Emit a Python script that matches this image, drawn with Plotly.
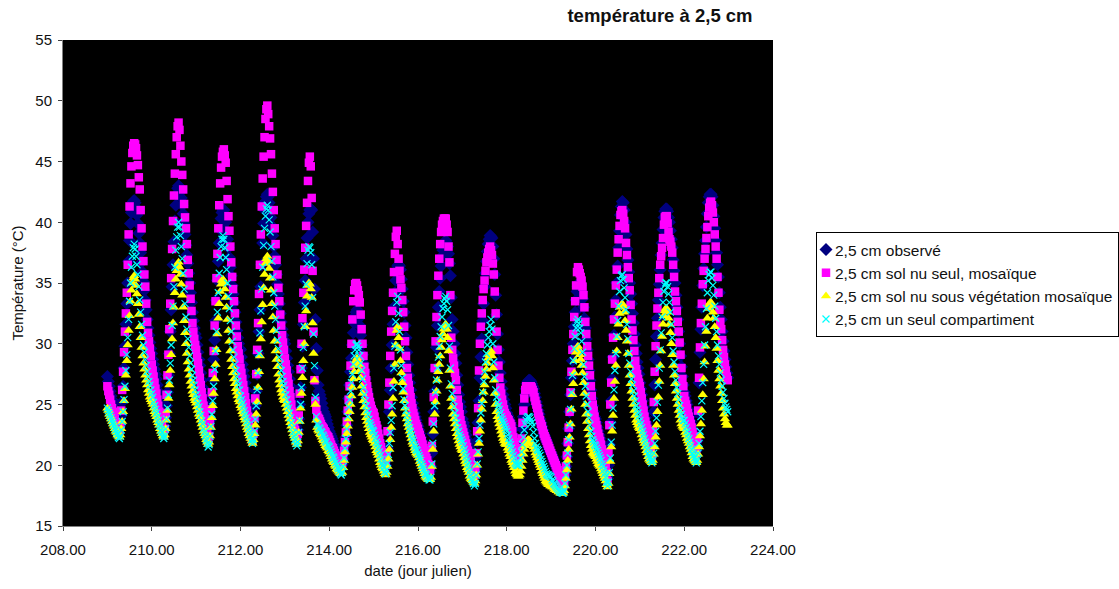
import plotly.graph_objects as go

days = [209, 210, 211, 212, 213, 214, 215, 216, 217, 218, 219, 220, 221, 222]
readings_per_day = 48

observed = [
 [27.3,26.9,26.5,26.1,25.7,25.4,25.0,24.7,24.3,24.0,23.8,23.6,23.4,23.2,23.4,24.1,25.2,26.5,28.0,29.8,31.6,33.3,35.0,36.8,38.5,39.9,40.8,41.4,41.7,41.8,41.6,41.2,40.6,39.9,39.1,38.3,37.5,36.7,35.9,35.1,34.4,33.6,32.8,32.0,31.3,30.7,30.1,29.6],
 [29.2,28.7,28.3,27.9,27.5,27.1,26.6,26.1,25.6,25.1,24.7,24.2,23.6,23.0,23.2,23.9,24.9,26.0,27.4,29.2,31.0,32.8,34.7,36.5,38.4,40.1,41.4,42.3,42.8,43.0,42.9,42.5,42.0,41.4,40.7,39.9,39.0,38.1,37.3,36.6,35.8,35.0,34.2,33.4,32.6,31.9,31.3,30.8],
 [30.5,29.9,29.3,28.7,28.2,27.6,27.0,26.4,25.8,25.2,24.7,24.2,23.5,22.8,23.0,23.7,24.7,25.8,27.1,28.7,30.3,31.9,33.6,35.2,36.8,38.3,39.4,40.3,40.8,41.0,41.0,40.6,40.0,39.3,38.6,37.9,37.1,36.3,35.6,34.8,34.1,33.4,32.6,31.8,31.1,30.5,30.0,29.6],
 [29.5,28.9,28.3,27.8,27.3,26.8,26.2,25.6,25.1,24.6,24.1,23.7,23.2,22.6,23.0,23.8,24.9,26.1,27.5,29.2,31.0,32.8,34.7,36.5,38.3,39.9,41.0,41.7,42.1,42.3,42.1,41.6,41.0,40.4,39.7,38.9,38.0,37.2,36.5,35.7,34.9,34.1,33.3,32.5,31.8,31.2,30.7,30.3],
 [30.0,29.4,28.8,28.2,27.7,27.1,26.5,25.9,25.3,24.8,24.3,23.8,23.2,22.6,22.9,23.8,25.0,26.4,28.0,29.8,31.6,33.4,35.2,37.0,38.7,40.0,40.7,41.0,41.1,41.0,39.2,37.0,34.5,32.0,29.6,27.8,26.6,26.1,25.8,25.5,25.1,24.7,24.4,24.2,24.0,23.7,23.4,23.1],
 [22.8,22.6,22.4,22.2,22.0,21.7,21.4,21.2,20.9,20.7,20.5,20.3,20.1,20.0,20.1,20.5,21.0,21.6,22.3,23.3,24.4,25.5,26.6,27.7,28.8,29.9,30.9,31.7,32.3,32.6,32.8,32.5,32.1,31.5,30.7,29.9,29.1,28.4,27.7,27.1,26.5,26.0,25.5,25.0,24.6,24.3,24.1,23.9],
 [23.8,23.5,23.2,22.9,22.6,22.3,22.0,21.7,21.4,21.1,20.8,20.6,20.3,20.0,20.4,21.4,22.8,24.4,26.2,28.0,29.9,31.6,33.0,34.2,35.2,36.0,36.4,36.5,36.4,36.1,35.3,34.5,33.5,32.6,31.5,30.5,29.3,28.3,27.4,26.8,26.2,25.6,25.1,24.7,24.3,24.0,23.7,23.4],
 [23.2,22.9,22.6,22.3,22.0,21.7,21.4,21.1,20.8,20.5,20.2,20.0,19.8,19.5,19.9,21.0,22.6,24.4,26.1,27.9,29.7,31.5,33.0,34.3,35.4,36.4,37.2,37.7,38.0,38.3,38.5,38.3,38.0,37.4,36.6,35.6,33.8,32.0,31.0,30.0,29.2,28.4,27.4,26.6,25.8,25.2,24.8,24.4],
 [23.8,23.5,23.2,22.8,22.5,22.1,21.8,21.5,21.1,20.8,20.4,20.1,19.8,19.4,19.7,20.7,22.0,23.5,25.3,27.2,28.9,30.4,31.9,33.3,34.7,35.8,36.8,37.6,38.2,38.6,38.9,38.8,38.7,38.0,37.0,35.7,34.0,32.4,30.8,29.5,28.5,27.6,26.9,26.3,25.8,25.4,25.0,24.7],
 [24.3,24.1,23.9,23.7,23.5,23.3,22.9,22.5,22.2,21.8,21.5,21.1,20.8,20.5,20.7,21.3,22.0,23.0,24.0,25.0,25.8,26.3,26.7,26.9,27.0,27.0,26.9,26.7,26.5,26.3,25.9,25.6,25.2,24.9,24.5,24.2,23.8,23.5,23.2,22.9,22.6,22.4,22.2,22.0,21.8,21.5,21.3,21.1],
 [21.0,20.8,20.6,20.4,20.2,20.0,19.8,19.6,19.4,19.2,19.0,18.8,18.6,18.4,18.6,19.2,19.9,20.7,21.8,23.0,24.4,25.8,27.2,28.6,30.0,31.4,32.6,33.6,34.3,34.7,35.0,35.0,34.8,34.3,33.7,33.0,32.1,31.3,30.4,29.5,28.7,27.8,27.0,26.2,25.5,24.9,24.4,24.0],
 [23.8,23.5,23.1,22.8,22.5,22.2,21.8,21.4,21.1,20.7,20.4,20.0,19.5,18.9,20.0,21.7,23.5,25.3,27.1,28.9,30.7,32.2,33.6,35.0,36.4,37.9,39.3,40.6,41.3,41.7,41.6,41.0,40.0,39.0,37.8,36.9,35.9,35.0,34.1,33.3,32.5,31.7,30.8,29.9,29.2,28.5,28.0,27.5],
 [26.8,26.3,25.8,25.3,24.8,24.3,23.9,23.5,23.2,22.8,22.5,22.1,21.5,20.8,22.3,24.4,26.6,28.7,30.6,32.1,33.6,34.9,36.1,37.3,38.3,39.4,40.4,40.9,41.1,41.1,40.9,40.4,40.0,39.3,38.6,37.9,36.9,36.0,35.0,34.0,33.0,32.0,31.0,30.0,29.0,28.1,27.3,26.6],
 [26.0,25.7,25.3,25.0,24.6,24.3,24.0,23.6,23.3,22.9,22.6,22.3,21.8,21.2,22.0,24.3,26.8,29.3,31.2,33.0,34.8,36.2,37.4,38.5,39.6,40.7,41.6,42.1,42.3,42.3,42.1,41.4,40.5,39.5,38.5,37.5,36.5,35.5,34.2,33.0,32.0,31.0,30.2,29.4,28.7,28.1,27.6,27.2],
]

bare_soil = [
 [26.5,26.1,25.8,25.4,25.0,24.7,24.4,24.1,23.8,23.5,23.3,23.1,22.9,22.8,23.2,24.5,26.2,27.7,29.3,31.0,32.5,34.2,36.5,39.0,41.3,43.2,44.6,45.7,46.3,46.5,46.4,46.1,45.5,44.7,43.7,42.7,41.0,39.5,38.0,36.8,35.7,34.7,33.3,31.8,30.9,30.2,29.6,29.0],
 [28.3,27.8,27.3,26.8,26.3,25.9,25.4,24.9,24.4,23.9,23.5,23.2,22.8,22.5,23.0,24.3,25.8,27.4,29.1,31.2,33.3,35.4,37.8,40.1,42.2,44.0,45.6,47.0,47.9,48.2,47.6,46.3,45.0,43.9,42.7,41.5,40.4,39.5,38.2,36.9,35.8,34.8,33.7,32.7,31.7,31.0,30.4,29.9],
 [29.5,28.9,28.4,27.8,27.2,26.6,26.0,25.5,24.9,24.3,23.8,23.3,22.6,22.0,22.4,23.4,24.6,26.0,27.6,29.4,31.5,33.5,35.4,37.4,39.5,41.4,43.2,44.5,45.4,45.8,46.0,45.5,44.9,43.4,41.9,40.5,39.3,38.0,36.7,35.5,34.5,33.5,32.5,31.5,30.6,29.8,29.2,28.7],
 [28.0,27.6,27.1,26.6,26.1,25.6,25.1,24.5,24.0,23.4,22.9,22.6,22.3,22.0,22.6,23.9,25.5,27.5,29.5,31.7,34.1,36.5,39.0,41.3,43.6,45.4,47.0,48.5,49.3,49.6,48.9,47.9,46.9,45.6,44.0,42.5,41.0,39.5,38.2,36.9,35.7,34.6,33.5,32.4,31.5,30.7,30.1,29.5],
 [28.8,28.3,27.8,27.2,26.7,26.1,25.6,25.0,24.4,23.8,23.3,22.9,22.4,22.0,22.6,24.1,25.9,27.9,30.0,32.1,34.2,36.1,37.9,39.7,41.6,43.4,44.9,45.4,44.6,42.0,36.0,31.0,27.0,25.3,24.6,24.1,23.9,23.8,23.6,23.4,23.2,23.1,23.0,22.8,22.7,22.5,22.4,22.3],
 [22.1,21.9,21.7,21.5,21.4,21.2,21.0,20.8,20.7,20.6,20.4,20.3,20.1,20.0,20.2,20.6,21.2,21.9,22.7,23.6,24.5,25.4,26.5,28.2,30.0,32.0,33.5,34.4,34.9,35.0,34.8,34.4,34.0,33.4,32.4,31.2,30.0,29.0,28.1,27.6,27.0,26.5,26.0,25.6,25.2,24.9,24.6,24.4],
 [24.3,24.0,23.6,23.3,23.0,22.6,22.2,21.8,21.5,21.1,20.8,20.5,20.2,20.0,21.0,22.8,25.0,26.8,29.0,31.0,32.7,34.2,35.9,37.4,38.8,39.3,38.2,37.0,36.0,35.3,34.6,33.6,32.6,31.4,30.2,29.0,28.0,27.2,26.6,26.1,25.6,25.1,24.7,24.3,24.0,23.7,23.4,23.2],
 [23.0,22.7,22.5,22.2,22.0,21.7,21.4,21.2,20.9,20.6,20.4,20.1,19.8,19.6,20.0,21.6,23.6,25.6,28.0,30.2,32.2,34.0,35.6,37.0,38.2,39.2,39.8,40.1,40.3,40.3,40.3,39.8,39.2,38.0,36.7,34.0,30.5,29.5,28.8,28.2,27.6,27.0,26.2,25.4,24.8,24.2,23.7,23.3],
 [23.0,22.7,22.4,22.1,21.8,21.5,21.2,20.9,20.6,20.3,20.0,19.7,19.4,19.2,19.8,21.0,22.8,24.7,27.8,30.0,31.4,32.5,33.6,34.5,35.2,36.0,36.7,37.1,37.5,37.8,38.0,37.7,37.3,36.6,35.7,34.3,32.5,31.0,29.5,28.2,27.2,26.4,25.9,25.4,25.0,24.6,24.3,24.1],
 [24.0,23.8,23.7,23.5,23.4,23.2,22.8,22.3,21.9,21.5,21.2,20.9,20.6,20.3,20.6,21.4,22.2,23.5,24.5,25.5,26.2,26.5,26.5,26.5,26.5,26.5,26.5,26.4,26.2,26.0,25.6,25.3,25.0,24.7,24.3,24.0,23.7,23.4,23.2,22.9,22.6,22.4,22.2,22.0,21.8,21.6,21.4,21.2],
 [21.0,20.8,20.6,20.4,20.2,20.0,19.8,19.6,19.3,19.1,18.9,18.7,18.5,18.3,18.6,19.2,19.9,20.8,21.9,23.1,24.4,26.0,27.7,29.5,30.8,32.2,33.5,34.8,35.9,36.3,36.1,35.8,35.5,35.2,34.7,34.0,33.0,31.8,30.8,29.8,29.0,28.2,27.4,26.5,25.7,25.0,24.5,24.0],
 [23.6,23.3,23.0,22.6,22.3,22.0,21.7,21.3,21.0,20.6,20.3,20.0,19.4,18.7,21.0,23.3,25.0,26.8,28.7,30.5,32.0,33.3,34.8,36.1,37.5,38.6,39.7,40.6,40.9,41.0,40.7,40.1,39.5,38.3,37.3,36.3,35.4,34.4,33.2,32.0,31.1,30.3,29.4,28.6,27.9,27.5,27.1,26.8],
 [26.5,26.0,25.5,25.0,24.5,24.0,23.6,23.3,23.0,22.6,22.3,22.0,21.3,20.6,22.8,25.2,27.7,29.8,31.5,32.9,34.2,35.4,36.5,37.2,37.9,38.7,39.8,40.4,40.5,40.5,39.9,39.2,38.6,38.4,38.0,37.5,36.5,35.5,34.3,33.5,32.7,31.8,31.0,30.1,29.1,28.0,27.1,26.5],
 [25.7,25.3,25.0,24.7,24.3,24.0,23.7,23.4,23.1,22.7,22.4,22.1,21.6,21.0,22.2,24.5,27.2,29.7,31.7,33.3,34.9,36.0,37.0,37.8,38.7,39.6,40.5,41.2,41.6,41.7,41.4,40.8,40.0,39.0,38.0,37.0,35.5,34.2,32.8,31.8,31.2,30.3,29.5,28.9,28.3,27.8,27.3,27.0],
]

under_veg = [
 [24.7,24.5,24.2,24.0,23.8,23.6,23.4,23.2,23.0,22.8,22.7,22.5,22.4,22.3,22.5,23.0,23.6,24.4,25.3,26.3,27.4,28.6,29.9,31.1,32.3,33.5,34.4,35.0,35.4,35.6,35.3,34.8,34.1,33.3,32.4,31.4,30.5,29.7,29.0,28.4,27.9,27.4,27.0,26.6,26.2,25.9,25.6,25.4],
 [25.2,25.0,24.7,24.4,24.2,24.0,23.7,23.5,23.3,23.0,22.8,22.6,22.4,22.3,22.5,23.0,23.7,24.5,25.5,26.6,27.8,29.1,30.4,31.7,33.0,34.2,35.3,36.0,36.5,36.7,36.3,35.7,34.9,34.0,33.0,31.9,30.9,30.0,29.2,28.5,27.9,27.4,26.9,26.5,26.1,25.8,25.5,25.3],
 [25.1,24.8,24.5,24.2,24.0,23.7,23.4,23.1,22.8,22.6,22.4,22.1,21.9,21.7,21.9,22.4,23.1,23.9,24.9,25.9,27.1,28.3,29.5,30.8,32.1,33.3,34.3,34.9,35.2,35.3,35.0,34.5,33.8,33.0,32.0,31.1,30.2,29.4,28.7,28.1,27.6,27.1,26.7,26.3,26.0,25.7,25.4,25.2],
 [24.9,24.7,24.4,24.2,23.9,23.7,23.4,23.1,22.9,22.6,22.4,22.2,22.0,21.8,22.1,22.6,23.3,24.2,25.2,26.4,27.7,29.0,30.4,31.8,33.2,34.6,35.7,36.6,37.0,37.2,36.8,36.2,35.4,34.4,33.3,32.2,31.1,30.2,29.4,28.7,28.1,27.5,27.0,26.6,26.2,25.9,25.6,25.4],
 [25.3,25.0,24.7,24.4,24.1,23.8,23.5,23.2,22.9,22.6,22.4,22.2,21.9,21.7,22.0,22.7,23.6,24.7,25.9,27.2,28.6,30.0,31.4,32.7,33.9,34.8,35.0,34.9,34.5,33.8,31.7,29.2,27.0,25.0,23.7,23.1,22.9,22.8,22.6,22.5,22.3,22.1,22.0,21.8,21.6,21.5,21.4,21.2],
 [21.1,20.9,20.7,20.5,20.3,20.2,20.0,19.9,19.7,19.6,19.5,19.4,19.3,19.3,19.4,19.8,20.4,21.1,21.9,22.6,23.2,23.8,24.4,25.0,25.7,26.4,27.1,27.7,28.2,28.6,28.8,28.6,28.3,27.8,27.2,26.5,25.9,25.3,24.8,24.3,23.9,23.6,23.3,23.0,22.7,22.5,22.3,22.1],
 [22.0,21.8,21.5,21.2,21.0,20.8,20.5,20.2,20.0,19.8,19.7,19.5,19.3,19.2,19.4,19.9,20.5,21.3,22.1,23.1,24.2,25.5,26.9,28.3,29.9,31.1,31.4,30.5,29.6,28.6,27.6,26.8,26.0,25.3,24.7,24.2,23.8,23.4,23.1,22.8,22.5,22.2,21.9,21.7,21.4,21.2,21.0,20.9],
 [20.8,20.6,20.3,20.1,19.9,19.7,19.5,19.3,19.1,19.0,18.9,18.8,18.8,18.8,19.0,19.9,21.3,22.8,24.2,25.2,26.1,27.0,27.7,28.3,29.0,29.7,30.3,30.8,31.2,31.5,31.6,31.2,30.5,29.4,27.8,26.5,25.5,24.8,24.2,23.8,23.4,23.0,22.6,22.3,22.0,21.7,21.5,21.3],
 [21.2,20.9,20.6,20.3,20.1,19.8,19.6,19.4,19.1,18.9,18.8,18.7,18.6,18.5,18.7,19.2,20.0,20.9,21.8,22.8,23.7,24.6,25.3,26.0,26.6,27.3,27.9,28.4,28.8,29.1,29.3,29.4,29.0,28.0,27.0,25.9,25.0,24.4,24.0,23.7,23.4,23.1,22.8,22.5,22.2,22.0,21.8,21.7],
 [21.7,21.4,21.2,20.9,20.7,20.4,20.2,20.0,19.8,19.5,19.3,19.2,19.1,19.1,19.2,19.5,19.9,20.4,20.9,21.3,21.6,21.9,22.0,22.1,22.1,22.0,21.9,21.8,21.7,21.5,21.3,21.0,20.8,20.6,20.4,20.2,20.0,19.8,19.5,19.3,19.1,18.9,18.7,18.6,18.5,18.4,18.4,18.3],
 [18.3,18.2,18.2,18.1,18.0,18.0,17.9,17.9,17.8,17.8,17.7,17.7,17.7,17.7,17.9,18.3,18.9,19.6,20.4,21.3,22.3,23.4,24.6,25.8,26.7,27.6,28.6,29.3,29.7,29.8,29.5,29.1,28.7,28.2,27.6,26.8,25.9,25.0,24.2,23.6,23.0,22.5,22.0,21.6,21.3,21.0,20.9,20.8],
 [20.7,20.5,20.3,20.1,20.0,19.9,19.7,19.5,19.3,19.1,18.9,18.7,18.4,18.2,18.5,19.3,20.3,21.5,22.8,24.1,25.5,26.9,28.2,29.4,30.5,31.6,32.5,33.0,33.2,33.3,33.1,32.6,31.9,31.1,30.2,29.2,28.2,27.4,26.7,26.1,25.5,25.0,24.5,24.1,23.7,23.5,23.3,23.1],
 [23.0,22.8,22.5,22.2,22.0,21.8,21.5,21.2,21.0,20.7,20.5,20.4,20.3,20.2,20.4,20.9,21.5,22.3,23.3,24.4,25.6,26.9,28.2,29.4,30.6,31.6,32.3,32.7,32.9,32.9,32.6,32.1,31.6,30.9,30.0,29.1,28.2,27.4,26.7,26.1,25.5,25.0,24.5,24.1,23.7,23.4,23.2,23.1],
 [23.0,22.7,22.5,22.2,22.0,21.8,21.5,21.3,21.0,20.7,20.5,20.4,20.3,20.2,20.4,20.9,21.5,22.4,23.4,24.5,25.8,27.1,28.5,29.8,31.0,32.1,32.9,33.2,33.4,33.4,33.1,32.6,32.1,31.4,30.5,29.6,28.6,27.8,27.1,26.5,25.9,25.3,24.7,24.2,23.8,23.5,23.3,23.3],
]

single_comp = [
 [24.7,24.5,24.3,24.1,23.9,23.7,23.5,23.3,23.1,22.9,22.7,22.5,22.3,22.2,22.4,22.9,23.6,24.4,25.4,26.5,27.8,29.1,30.5,32.0,33.5,35.0,36.3,37.2,37.9,38.2,37.8,37.2,36.5,35.7,34.7,33.6,32.6,31.6,30.7,29.9,29.3,28.7,28.2,27.7,27.3,26.9,26.6,26.2],
 [25.9,25.6,25.2,24.9,24.6,24.3,24.0,23.7,23.4,23.2,22.9,22.7,22.4,22.2,22.4,23.0,23.8,24.7,25.8,27.0,28.4,29.9,31.5,33.1,34.7,36.3,37.7,38.8,39.6,40.0,39.6,38.9,38.0,37.0,35.8,34.5,33.3,32.2,31.2,30.4,29.7,29.0,28.4,27.9,27.4,27.0,26.6,26.2],
 [25.8,25.5,25.1,24.8,24.4,24.1,23.7,23.4,23.0,22.7,22.4,22.1,21.8,21.5,21.7,22.4,23.2,24.2,25.3,26.5,27.9,29.4,31.0,32.6,34.2,35.8,37.1,38.0,38.6,38.9,38.6,37.9,37.1,36.1,35.0,33.9,32.9,31.9,31.0,30.2,29.5,28.9,28.3,27.8,27.3,26.9,26.6,26.2],
 [25.7,25.4,25.1,24.8,24.5,24.2,23.9,23.6,23.3,23.0,22.7,22.4,22.1,21.8,22.1,22.8,23.8,24.9,26.2,27.6,29.2,30.9,32.7,34.5,36.3,38.1,39.5,40.5,41.1,41.4,41.0,40.2,39.2,38.0,36.8,35.5,34.2,33.1,32.0,31.1,30.3,29.6,28.9,28.3,27.8,27.3,26.9,26.6],
 [26.2,25.8,25.4,25.0,24.7,24.3,23.9,23.5,23.1,22.7,22.4,22.1,21.8,21.6,21.9,22.7,23.7,25.0,26.4,28.0,29.7,31.4,33.1,34.9,36.6,37.7,38.0,37.9,37.5,36.5,33.8,30.8,28.2,25.6,24.0,23.4,23.3,23.1,23.0,22.8,22.7,22.5,22.4,22.2,22.0,21.9,21.7,21.6],
 [21.5,21.3,21.1,20.9,20.7,20.6,20.4,20.2,20.0,19.8,19.7,19.5,19.3,19.2,19.4,19.9,20.6,21.4,22.2,23.0,24.0,24.8,25.4,26.1,26.8,27.5,28.3,29.0,29.5,29.9,30.0,29.8,29.5,29.0,28.4,27.8,27.1,26.4,25.8,25.3,24.9,24.5,24.2,23.8,23.5,23.3,23.1,22.9],
 [22.8,22.5,22.2,21.9,21.7,21.4,21.1,20.8,20.5,20.2,20.0,19.8,19.5,19.3,19.6,20.2,20.9,21.8,22.7,23.7,24.9,26.4,28.0,29.8,31.8,33.4,33.9,32.5,31.0,29.5,28.2,27.2,26.3,25.4,24.9,24.5,24.1,23.7,23.4,23.1,22.8,22.5,22.2,22.0,21.7,21.5,21.3,21.2],
 [21.0,20.8,20.6,20.4,20.1,19.9,19.7,19.5,19.3,19.2,19.0,18.9,18.8,18.8,19.0,20.1,21.8,23.4,24.9,26.0,27.0,28.0,28.9,29.8,30.6,31.4,32.2,32.9,33.3,33.7,33.9,33.5,32.8,31.5,29.8,28.0,26.7,25.9,25.3,24.8,24.3,23.9,23.5,23.1,22.8,22.5,22.3,22.1],
 [21.9,21.6,21.3,21.0,20.7,20.4,20.1,19.8,19.5,19.2,18.9,18.7,18.5,18.3,18.5,19.2,20.1,21.1,22.2,23.3,24.3,25.1,26.0,26.9,27.7,28.5,29.2,29.9,30.5,31.0,31.5,32.0,31.2,30.0,28.5,27.2,26.2,25.6,25.2,24.9,24.6,24.3,24.0,23.8,23.6,23.4,23.2,23.0],
 [22.8,22.5,22.2,21.9,21.7,21.4,21.1,20.8,20.5,20.2,20.1,20.0,20.0,20.0,20.2,20.6,21.1,21.7,22.3,22.9,23.4,23.7,23.9,24.0,24.0,23.9,23.7,23.5,23.2,22.7,22.2,21.8,21.5,21.3,21.2,21.0,20.8,20.5,20.3,20.1,19.9,19.7,19.5,19.3,19.2,19.2,19.1,19.1],
 [19.0,18.8,18.7,18.5,18.4,18.3,18.2,18.1,18.0,17.9,17.8,17.8,17.7,17.7,17.9,18.5,19.2,20.0,21.0,22.1,23.3,24.6,26.0,27.4,28.6,29.6,30.6,31.3,31.8,32.0,31.7,31.3,30.9,30.2,29.3,28.3,27.3,26.5,25.7,25.0,24.4,23.9,23.3,22.8,22.4,22.1,21.9,21.7],
 [21.6,21.4,21.2,21.0,20.8,20.6,20.4,20.1,19.9,19.6,19.3,19.0,18.6,18.3,18.6,19.4,20.6,21.9,23.3,24.7,26.2,27.8,29.2,30.6,31.9,33.1,34.3,35.2,35.6,35.7,35.3,34.6,33.8,32.8,31.6,30.4,29.2,28.4,27.7,27.1,26.6,26.1,25.7,25.3,24.9,24.6,24.3,24.0],
 [23.7,23.4,23.1,22.8,22.5,22.2,21.9,21.6,21.3,21.0,20.8,20.6,20.4,20.2,20.4,21.0,21.8,22.8,23.9,25.2,26.6,28.0,29.5,30.9,32.2,33.4,34.3,34.8,35.0,35.0,34.7,34.1,33.4,32.6,31.6,30.5,29.4,28.5,27.7,27.0,26.4,25.9,25.4,24.9,24.5,24.2,23.9,23.7],
 [23.7,23.4,23.1,22.8,22.5,22.2,21.9,21.6,21.3,21.0,20.8,20.6,20.4,20.2,20.4,21.0,21.8,22.8,24.0,25.3,26.8,28.3,29.9,31.4,32.9,34.2,35.2,35.7,35.9,35.9,35.4,34.8,34.0,33.1,32.1,31.0,29.9,29.0,28.3,27.6,27.0,26.5,26.0,25.5,25.1,24.8,24.6,24.4],
]

series_names = [
    "2,5 cm observé",
    "2,5 cm sol nu seul, mosaïque",
    "2,5 cm sol nu sous végétation mosaïque",
    "2,5 cm un seul compartiment",
]


def times(rows):
    return [d + k / readings_per_day for d, r in zip(days, rows) for k in range(len(r))]


def flat(rows):
    return [v for r in rows for v in r]


styles = [
    (observed, dict(symbol="diamond", size=10, color="#000080")),
    (bare_soil, dict(symbol="square", size=8.5, color="#FF00FF")),
    (under_veg, dict(symbol="triangle-up", size=9, color="#FFFF00")),
    (single_comp, dict(symbol="x-thin", size=7, color="#00FFFF",
                       line=dict(color="#00FFFF", width=1.2))),
]

fig = go.Figure()
for name, (rows, marker) in zip(series_names, styles):
    fig.add_trace(go.Scatter(x=times(rows), y=flat(rows), mode="markers", name=name, marker=marker))

font = dict(family="Liberation Sans, Arial, sans-serif", size=15, color="#111111")
fig.update_layout(
    width=1119, height=589, autosize=False,
    margin=dict(l=63, r=339, t=40, b=61),
    paper_bgcolor="white", plot_bgcolor="black",
    font=font, showlegend=True,
    title=dict(text="<b>température à 2,5 cm</b>", x=660 / 1119, xanchor="center",
               y=1 - 16 / 589, yanchor="middle", font=dict(size=18.5, color="#111111")),
    legend=dict(x=1.012, xref="paper", y=0.6066, yref="paper", xanchor="left", yanchor="top",
                bgcolor="white", bordercolor="black", borderwidth=1,
                font=dict(size=15.5, color="#111111"), itemwidth=30),
)
axis_style = dict(showgrid=False, zeroline=False, showline=True, linecolor="#808080", linewidth=1,
                  ticks="outside", ticklen=4, tickcolor="#404040")
fig.update_xaxes(range=[208, 224], dtick=2, tickformat=".2f", ticklabelstandoff=6,
                 title=dict(text="date (jour julien)", standoff=8, font=dict(size=15)), **axis_style)
fig.update_yaxes(range=[15, 55], dtick=5, ticklabelstandoff=3,
                 title=dict(text="Température (°C)", standoff=8, font=dict(size=15)), **axis_style)

legend_fix = """
document.body.style.margin = '0';
var lg = document.querySelector('.legend');
lg.setAttribute('transform', 'translate(816,232)');
lg.querySelector('rect.bg').setAttribute('width', '302');
lg.querySelectorAll('.legendtext').forEach(function (t) { t.setAttribute('x', '18'); });
lg.querySelectorAll('.legendsymbols').forEach(function (s) { s.setAttribute('transform', 'translate(-11,0)'); });
"""
fig.write_html("out.html", config=dict(displayModeBar=False), post_script=legend_fix)
